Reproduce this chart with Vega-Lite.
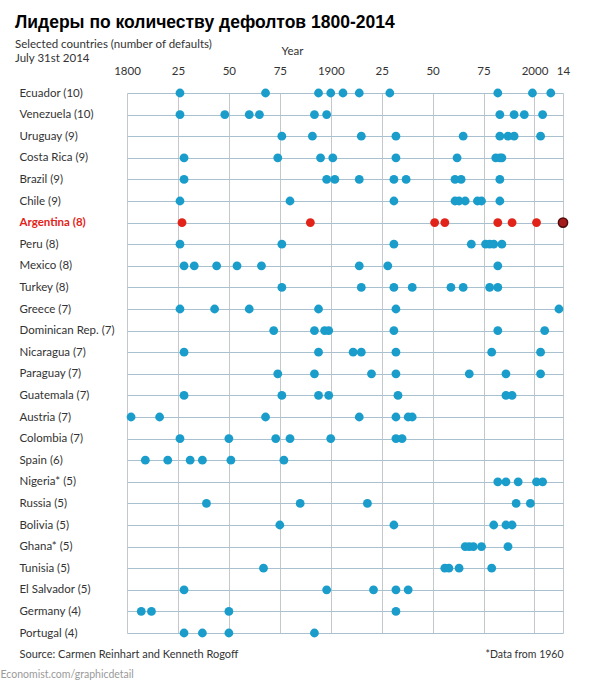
{
  "$schema": "https://vega.github.io/schema/vega-lite/v6.json",
  "width": 436,
  "height": 547,
  "autosize": "none",
  "padding": {"left": 127, "top": 86, "right": 27, "bottom": 51},
  "background": "white",
  "title": {
    "text": "Лидеры по количеству дефолтов 1800-2014",
    "subtitle": ["Selected countries (number of defaults)", "July 31st 2014"],
    "anchor": "start",
    "frame": "group",
    "dx": -112,
    "offset": -19,
    "font": "Liberation Sans",
    "fontSize": 17.5,
    "fontWeight": "bold",
    "color": "#000000",
    "subtitleFont": "Lato",
    "subtitleFontSize": 11.5,
    "subtitleColor": "#333333",
    "subtitlePadding": 8
  },
  "config": {
    "view": {"stroke": null},
    "font": "Lato"
  },
  "data": {
    "values": [
      {"country": "Ecuador (10)", "year": 1826}, {"country": "Ecuador (10)", "year": 1868}, {"country": "Ecuador (10)", "year": 1894}, {"country": "Ecuador (10)", "year": 1900}, {"country": "Ecuador (10)", "year": 1906}, {"country": "Ecuador (10)", "year": 1914}, {"country": "Ecuador (10)", "year": 1929}, {"country": "Ecuador (10)", "year": 1982}, {"country": "Ecuador (10)", "year": 1999}, {"country": "Ecuador (10)", "year": 2008},
      {"country": "Venezuela (10)", "year": 1826}, {"country": "Venezuela (10)", "year": 1848}, {"country": "Venezuela (10)", "year": 1860}, {"country": "Venezuela (10)", "year": 1865}, {"country": "Venezuela (10)", "year": 1892}, {"country": "Venezuela (10)", "year": 1898}, {"country": "Venezuela (10)", "year": 1983}, {"country": "Venezuela (10)", "year": 1990}, {"country": "Venezuela (10)", "year": 1995}, {"country": "Venezuela (10)", "year": 2004},
      {"country": "Uruguay (9)", "year": 1876}, {"country": "Uruguay (9)", "year": 1891}, {"country": "Uruguay (9)", "year": 1915}, {"country": "Uruguay (9)", "year": 1932}, {"country": "Uruguay (9)", "year": 1965}, {"country": "Uruguay (9)", "year": 1983}, {"country": "Uruguay (9)", "year": 1987}, {"country": "Uruguay (9)", "year": 1990}, {"country": "Uruguay (9)", "year": 2003},
      {"country": "Costa Rica (9)", "year": 1828}, {"country": "Costa Rica (9)", "year": 1874}, {"country": "Costa Rica (9)", "year": 1895}, {"country": "Costa Rica (9)", "year": 1901}, {"country": "Costa Rica (9)", "year": 1932}, {"country": "Costa Rica (9)", "year": 1962}, {"country": "Costa Rica (9)", "year": 1981}, {"country": "Costa Rica (9)", "year": 1983}, {"country": "Costa Rica (9)", "year": 1984},
      {"country": "Brazil (9)", "year": 1828}, {"country": "Brazil (9)", "year": 1898}, {"country": "Brazil (9)", "year": 1902}, {"country": "Brazil (9)", "year": 1914}, {"country": "Brazil (9)", "year": 1931}, {"country": "Brazil (9)", "year": 1937}, {"country": "Brazil (9)", "year": 1961}, {"country": "Brazil (9)", "year": 1964}, {"country": "Brazil (9)", "year": 1983},
      {"country": "Chile (9)", "year": 1826}, {"country": "Chile (9)", "year": 1880}, {"country": "Chile (9)", "year": 1931}, {"country": "Chile (9)", "year": 1961}, {"country": "Chile (9)", "year": 1963}, {"country": "Chile (9)", "year": 1966}, {"country": "Chile (9)", "year": 1972}, {"country": "Chile (9)", "year": 1974}, {"country": "Chile (9)", "year": 1983},
      {"country": "Argentina (8)", "year": 1827}, {"country": "Argentina (8)", "year": 1890}, {"country": "Argentina (8)", "year": 1951}, {"country": "Argentina (8)", "year": 1956}, {"country": "Argentina (8)", "year": 1982}, {"country": "Argentina (8)", "year": 1989}, {"country": "Argentina (8)", "year": 2001}, {"country": "Argentina (8)", "year": 2014},
      {"country": "Peru (8)", "year": 1826}, {"country": "Peru (8)", "year": 1876}, {"country": "Peru (8)", "year": 1931}, {"country": "Peru (8)", "year": 1969}, {"country": "Peru (8)", "year": 1976}, {"country": "Peru (8)", "year": 1978}, {"country": "Peru (8)", "year": 1980}, {"country": "Peru (8)", "year": 1984},
      {"country": "Mexico (8)", "year": 1828}, {"country": "Mexico (8)", "year": 1833}, {"country": "Mexico (8)", "year": 1844}, {"country": "Mexico (8)", "year": 1854}, {"country": "Mexico (8)", "year": 1866}, {"country": "Mexico (8)", "year": 1914}, {"country": "Mexico (8)", "year": 1928}, {"country": "Mexico (8)", "year": 1982},
      {"country": "Turkey (8)", "year": 1876}, {"country": "Turkey (8)", "year": 1915}, {"country": "Turkey (8)", "year": 1931}, {"country": "Turkey (8)", "year": 1940}, {"country": "Turkey (8)", "year": 1959}, {"country": "Turkey (8)", "year": 1965}, {"country": "Turkey (8)", "year": 1978}, {"country": "Turkey (8)", "year": 1982},
      {"country": "Greece (7)", "year": 1826}, {"country": "Greece (7)", "year": 1843}, {"country": "Greece (7)", "year": 1860}, {"country": "Greece (7)", "year": 1894}, {"country": "Greece (7)", "year": 1932}, {"country": "Greece (7)", "year": 2012},
      {"country": "Dominican Rep. (7)", "year": 1872}, {"country": "Dominican Rep. (7)", "year": 1892}, {"country": "Dominican Rep. (7)", "year": 1897}, {"country": "Dominican Rep. (7)", "year": 1899}, {"country": "Dominican Rep. (7)", "year": 1931}, {"country": "Dominican Rep. (7)", "year": 1982}, {"country": "Dominican Rep. (7)", "year": 2005},
      {"country": "Nicaragua (7)", "year": 1828}, {"country": "Nicaragua (7)", "year": 1894}, {"country": "Nicaragua (7)", "year": 1911}, {"country": "Nicaragua (7)", "year": 1915}, {"country": "Nicaragua (7)", "year": 1932}, {"country": "Nicaragua (7)", "year": 1979}, {"country": "Nicaragua (7)", "year": 2003},
      {"country": "Paraguay (7)", "year": 1874}, {"country": "Paraguay (7)", "year": 1892}, {"country": "Paraguay (7)", "year": 1920}, {"country": "Paraguay (7)", "year": 1932}, {"country": "Paraguay (7)", "year": 1968}, {"country": "Paraguay (7)", "year": 1986}, {"country": "Paraguay (7)", "year": 2003},
      {"country": "Guatemala (7)", "year": 1828}, {"country": "Guatemala (7)", "year": 1876}, {"country": "Guatemala (7)", "year": 1894}, {"country": "Guatemala (7)", "year": 1899}, {"country": "Guatemala (7)", "year": 1933}, {"country": "Guatemala (7)", "year": 1986}, {"country": "Guatemala (7)", "year": 1989},
      {"country": "Austria (7)", "year": 1802}, {"country": "Austria (7)", "year": 1816}, {"country": "Austria (7)", "year": 1868}, {"country": "Austria (7)", "year": 1914}, {"country": "Austria (7)", "year": 1932}, {"country": "Austria (7)", "year": 1938}, {"country": "Austria (7)", "year": 1940},
      {"country": "Colombia (7)", "year": 1826}, {"country": "Colombia (7)", "year": 1850}, {"country": "Colombia (7)", "year": 1873}, {"country": "Colombia (7)", "year": 1880}, {"country": "Colombia (7)", "year": 1900}, {"country": "Colombia (7)", "year": 1932}, {"country": "Colombia (7)", "year": 1935},
      {"country": "Spain (6)", "year": 1809}, {"country": "Spain (6)", "year": 1820}, {"country": "Spain (6)", "year": 1831}, {"country": "Spain (6)", "year": 1837}, {"country": "Spain (6)", "year": 1851}, {"country": "Spain (6)", "year": 1877},
      {"country": "Nigeria* (5)", "year": 1982}, {"country": "Nigeria* (5)", "year": 1986}, {"country": "Nigeria* (5)", "year": 1992}, {"country": "Nigeria* (5)", "year": 2001}, {"country": "Nigeria* (5)", "year": 2004},
      {"country": "Russia (5)", "year": 1839}, {"country": "Russia (5)", "year": 1885}, {"country": "Russia (5)", "year": 1918}, {"country": "Russia (5)", "year": 1991}, {"country": "Russia (5)", "year": 1998},
      {"country": "Bolivia (5)", "year": 1875}, {"country": "Bolivia (5)", "year": 1931}, {"country": "Bolivia (5)", "year": 1980}, {"country": "Bolivia (5)", "year": 1986}, {"country": "Bolivia (5)", "year": 1989},
      {"country": "Ghana* (5)", "year": 1966}, {"country": "Ghana* (5)", "year": 1968}, {"country": "Ghana* (5)", "year": 1970}, {"country": "Ghana* (5)", "year": 1974}, {"country": "Ghana* (5)", "year": 1987},
      {"country": "Tunisia (5)", "year": 1867}, {"country": "Tunisia (5)", "year": 1956}, {"country": "Tunisia (5)", "year": 1958}, {"country": "Tunisia (5)", "year": 1963}, {"country": "Tunisia (5)", "year": 1979},
      {"country": "El Salvador (5)", "year": 1828}, {"country": "El Salvador (5)", "year": 1898}, {"country": "El Salvador (5)", "year": 1921}, {"country": "El Salvador (5)", "year": 1932}, {"country": "El Salvador (5)", "year": 1938},
      {"country": "Germany (4)", "year": 1807}, {"country": "Germany (4)", "year": 1812}, {"country": "Germany (4)", "year": 1850}, {"country": "Germany (4)", "year": 1932},
      {"country": "Portugal (4)", "year": 1828}, {"country": "Portugal (4)", "year": 1837}, {"country": "Portugal (4)", "year": 1850}, {"country": "Portugal (4)", "year": 1892}
    ]
  },
  "layer": [
    {
      "mark": {"type": "circle", "size": 78, "opacity": 1},
      "encoding": {
        "x": {
          "field": "year",
          "type": "quantitative",
          "scale": {"domain": [1800, 2014], "nice": false, "zero": false},
          "axis": {
            "orient": "top",
            "values": [1800, 1825, 1850, 1875, 1900, 1925, 1950, 1975, 2000, 2014],
            "labelExpr": "datum.value == 2014 ? '14' : (datum.value % 100 == 0 ? '' + datum.value : '' + (datum.value % 100))",
            "labelFont": "Lato",
            "labelFontSize": 11.5,
            "labelColor": "#333333",
            "labelPadding": 10,
            "labelFlush": false,
            "labelOverlap": false,
            "ticks": false,
            "domain": false,
            "grid": true,
            "gridColor": "#c2c8cc",
            "gridWidth": 1,
            "title": "Year",
            "titleFont": "Lato",
            "titleFontSize": 11.5,
            "titleFontWeight": "normal",
            "titleColor": "#333333",
            "titleX": 165,
            "titleY": -35,
            "titleAlign": "center",
            "titleBaseline": "middle"
          }
        },
        "y": {
          "field": "country",
          "type": "ordinal",
          "sort": null,
          "scale": {"type": "point", "range": [7, 547], "padding": 0},
          "axis": {
            "orient": "left",
            "labelAlign": "left",
            "labelBaseline": "middle",
            "labelPadding": 108,
            "labelFont": "Lato",
            "labelFontSize": 11.5,
            "labelColor": {"condition": {"test": "datum.value === 'Argentina (8)'", "value": "#e2231a"}, "value": "#333333"},
            "labelFontWeight": {"condition": {"test": "datum.value === 'Argentina (8)'", "value": "bold"}, "value": "normal"},
            "ticks": false,
            "domain": false,
            "grid": true,
            "gridColor": "#a9c1cf",
            "gridWidth": 1.2,
            "title": "Economist.com/graphicdetail",
            "titleAngle": 0,
            "titleFont": "Lato",
            "titleFontSize": 10.5,
            "titleFontWeight": "normal",
            "titleColor": "#9a9a9a",
            "titleX": -127,
            "titleY": 588,
            "titleAlign": "left",
            "titleBaseline": "middle"
          }
        },
        "color": {
          "condition": {"test": "datum.country === 'Argentina (8)'", "value": "#e2231a"},
          "value": "#1a9dcb"
        }
      }
    },
    {
      "transform": [{"filter": "datum.country === 'Argentina (8)' && datum.year === 2014"}],
      "mark": {"type": "circle", "size": 85, "opacity": 1, "fill": "#a51c1c", "stroke": "#500c0c", "strokeWidth": 1.5},
      "encoding": {
        "x": {
          "field": "year",
          "type": "quantitative",
          "axis": {
            "orient": "bottom",
            "labels": false,
            "ticks": false,
            "domain": false,
            "grid": false,
            "title": "Source: Carmen Reinhart and Kenneth Rogoff",
            "titleFont": "Lato",
            "titleFontSize": 11,
            "titleFontWeight": "normal",
            "titleColor": "#333333",
            "titleX": -108,
            "titleY": 21,
            "titleAlign": "left",
            "titleBaseline": "middle"
          }
        },
        "y": {
          "field": "country",
          "type": "ordinal",
          "sort": null,
          "axis": {
            "orient": "right",
            "labels": false,
            "ticks": false,
            "domain": false,
            "grid": false,
            "title": "*Data from 1960",
            "titleAngle": 0,
            "titleFont": "Lato",
            "titleFontSize": 10.5,
            "titleFontWeight": "normal",
            "titleColor": "#333333",
            "titleX": 0,
            "titleY": 568,
            "titleAlign": "right",
            "titleBaseline": "middle"
          }
        }
      }
    }
  ],
  "resolve": {"axis": {"x": "independent", "y": "independent"}}
}
